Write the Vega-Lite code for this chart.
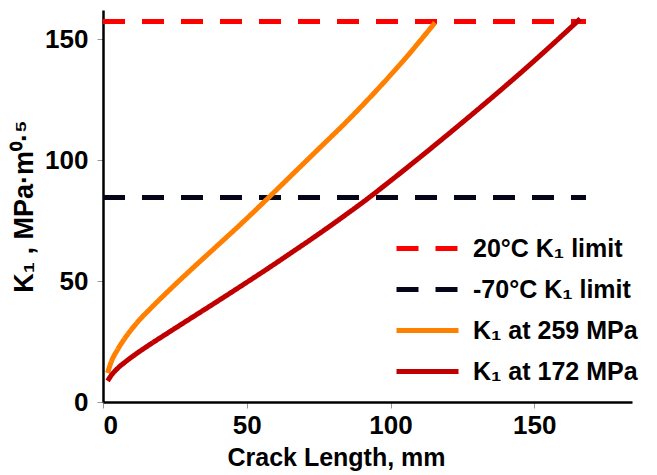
{
  "$schema": "https://vega.github.io/schema/vega-lite/v6.json",
  "width": 529,
  "height": 392,
  "autosize": {"type": "none"},
  "padding": {"left": 103, "top": 10, "right": 25, "bottom": 73},
  "background": "white",
  "config": {"view": {"stroke": null}, "font": "Liberation Sans"},
  "datasets": {
    "limits": [
      {"series": "20°C K₁ limit", "crack_mm": 0, "k1": 157.2},
      {"series": "20°C K₁ limit", "crack_mm": 168, "k1": 157.2},
      {"series": "-70°C K₁ limit", "crack_mm": 0, "k1": 84.5},
      {"series": "-70°C K₁ limit", "crack_mm": 168, "k1": 84.5}
    ],
    "curves": [
      {"series": "K₁ at 259 MPa", "crack_mm": 1.6, "k1": 12},
      {"series": "K₁ at 259 MPa", "crack_mm": 3, "k1": 17},
      {"series": "K₁ at 259 MPa", "crack_mm": 5, "k1": 21.5},
      {"series": "K₁ at 259 MPa", "crack_mm": 8, "k1": 27},
      {"series": "K₁ at 259 MPa", "crack_mm": 12, "k1": 33},
      {"series": "K₁ at 259 MPa", "crack_mm": 17, "k1": 39.2},
      {"series": "K₁ at 259 MPa", "crack_mm": 22.5, "k1": 45.6},
      {"series": "K₁ at 259 MPa", "crack_mm": 30, "k1": 54},
      {"series": "K₁ at 259 MPa", "crack_mm": 39, "k1": 63.8},
      {"series": "K₁ at 259 MPa", "crack_mm": 48, "k1": 73.6},
      {"series": "K₁ at 259 MPa", "crack_mm": 57, "k1": 83.8},
      {"series": "K₁ at 259 MPa", "crack_mm": 66, "k1": 94.2},
      {"series": "K₁ at 259 MPa", "crack_mm": 75, "k1": 104.6},
      {"series": "K₁ at 259 MPa", "crack_mm": 85, "k1": 116.2},
      {"series": "K₁ at 259 MPa", "crack_mm": 95, "k1": 128.6},
      {"series": "K₁ at 259 MPa", "crack_mm": 105, "k1": 141.8},
      {"series": "K₁ at 259 MPa", "crack_mm": 115.5, "k1": 156.8},
      {"series": "K₁ at 172 MPa", "crack_mm": 1.6, "k1": 8.7},
      {"series": "K₁ at 172 MPa", "crack_mm": 3, "k1": 11.2},
      {"series": "K₁ at 172 MPa", "crack_mm": 5, "k1": 13.8},
      {"series": "K₁ at 172 MPa", "crack_mm": 8, "k1": 16.8},
      {"series": "K₁ at 172 MPa", "crack_mm": 12, "k1": 20.3},
      {"series": "K₁ at 172 MPa", "crack_mm": 17, "k1": 24.3},
      {"series": "K₁ at 172 MPa", "crack_mm": 22.5, "k1": 28.5},
      {"series": "K₁ at 172 MPa", "crack_mm": 30, "k1": 34.2},
      {"series": "K₁ at 172 MPa", "crack_mm": 39, "k1": 41},
      {"series": "K₁ at 172 MPa", "crack_mm": 48, "k1": 47.9},
      {"series": "K₁ at 172 MPa", "crack_mm": 57, "k1": 54.9},
      {"series": "K₁ at 172 MPa", "crack_mm": 66, "k1": 62.1},
      {"series": "K₁ at 172 MPa", "crack_mm": 75, "k1": 69.4},
      {"series": "K₁ at 172 MPa", "crack_mm": 84, "k1": 77},
      {"series": "K₁ at 172 MPa", "crack_mm": 92, "k1": 84},
      {"series": "K₁ at 172 MPa", "crack_mm": 100, "k1": 91.4},
      {"series": "K₁ at 172 MPa", "crack_mm": 110, "k1": 100.9},
      {"series": "K₁ at 172 MPa", "crack_mm": 120, "k1": 110.6},
      {"series": "K₁ at 172 MPa", "crack_mm": 130, "k1": 120.5},
      {"series": "K₁ at 172 MPa", "crack_mm": 140, "k1": 130.6},
      {"series": "K₁ at 172 MPa", "crack_mm": 150, "k1": 141},
      {"series": "K₁ at 172 MPa", "crack_mm": 158, "k1": 149.6},
      {"series": "K₁ at 172 MPa", "crack_mm": 166, "k1": 158.4}
    ]
  },
  "encoding": {
    "x": {
      "field": "crack_mm",
      "type": "quantitative",
      "scale": {"domain": [0, 184], "nice": false, "zero": false},
      "axis": {
        "values": [0, 50, 100, 150],
        "title": "Crack Length, mm",
        "grid": false,
        "domainColor": "black",
        "domainWidth": 2.5,
        "tickColor": "#999999",
        "tickSize": 6,
        "tickWidth": 1,
        "labelFontSize": 26,
        "labelFontWeight": "bold",
        "labelColor": "black",
        "labelPadding": 4,
        "titleFontSize": 25,
        "titleFontWeight": "bold",
        "titleColor": "black",
        "titleX": 233,
        "titlePadding": 7
      }
    },
    "y": {
      "field": "k1",
      "type": "quantitative",
      "scale": {"domain": [0, 162], "nice": false, "zero": false},
      "axis": {
        "values": [0, 50, 100, 150],
        "title": "K₁ ,  MPa·m⁰·⁵",
        "grid": false,
        "domainColor": "black",
        "domainWidth": 2.5,
        "tickColor": "#999999",
        "tickSize": 6,
        "tickWidth": 1,
        "labelFontSize": 26,
        "labelFontWeight": "bold",
        "labelColor": "black",
        "labelPadding": 9,
        "titleFontSize": 27,
        "titleFontWeight": "bold",
        "titleColor": "black",
        "titlePadding": 6
      }
    },
    "color": {
      "field": "series",
      "type": "nominal",
      "scale": {
        "domain": ["20°C K₁ limit", "-70°C K₁ limit", "K₁ at 259 MPa", "K₁ at 172 MPa"],
        "range": ["#ff0000", "#05051a", "#ff7f00", "#c00000"]
      },
      "legend": {
        "orient": "none",
        "legendX": 291,
        "legendY": 218,
        "title": null,
        "symbolType": "stroke",
        "symbolSize": 3844,
        "symbolStrokeWidth": 5,
        "clipHeight": 41,
        "labelFontSize": 25,
        "labelFontWeight": "bold",
        "labelColor": "black",
        "labelOffset": 12,
        "labelLimit": 300,
        "rowPadding": 0,
        "padding": 0
      }
    },
    "strokeDash": {
      "field": "series",
      "type": "nominal",
      "scale": {
        "domain": ["20°C K₁ limit", "-70°C K₁ limit", "K₁ at 259 MPa", "K₁ at 172 MPa"],
        "range": [[22, 17], [22, 17], [1, 0], [1, 0]]
      },
      "legend": {
        "orient": "none",
        "legendX": 291,
        "legendY": 218,
        "title": null,
        "symbolType": "stroke",
        "symbolSize": 3844,
        "symbolStrokeWidth": 5,
        "clipHeight": 41,
        "labelFontSize": 25,
        "labelFontWeight": "bold",
        "labelColor": "black",
        "labelOffset": 12,
        "labelLimit": 300,
        "rowPadding": 0,
        "padding": 0
      }
    }
  },
  "layer": [
    {
      "data": {"name": "limits"},
      "mark": {"type": "line", "strokeWidth": 5}
    },
    {
      "data": {"name": "curves"},
      "mark": {"type": "line", "strokeWidth": 5, "interpolate": "monotone"}
    }
  ]
}
